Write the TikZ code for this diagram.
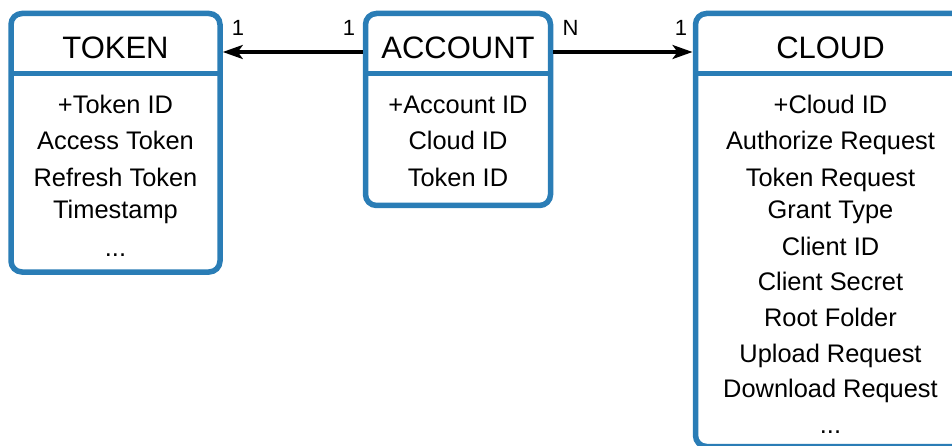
\documentclass[tikz,border=0pt]{standalone}
\usepackage{fontspec}
\setmainfont{Liberation Sans}
\usetikzlibrary{arrows.meta}
\definecolor{erblue}{RGB}{42,125,182}
\tikzset{
  entity/.style={draw=erblue, line width=5.5pt, rounded corners=11pt, fill=white},
  divider/.style={draw=erblue, line width=5pt},
  title/.style={anchor=base, inner sep=0pt, font=\fontsize{31}{31}\selectfont},
  field/.style={anchor=base, inner sep=0pt, font=\fontsize{25.4}{25.4}\selectfont},
  card/.style={anchor=base, inner sep=0pt, font=\fontsize{22}{22}\selectfont},
  rel/.style={line width=3.2pt, -{Stealth[length=20pt,width=14pt,inset=5pt]}}
}
\begin{document}
\begin{tikzpicture}[x=1pt,y=-1pt]
\useasboundingbox (0,0) rectangle (952,446);
\begin{scope}
\clip (0,0) rectangle (952,446);

% TOKEN entity
\draw[entity] (11,13.5) rectangle (220,272);
\draw[divider] (11,73.5) -- (220,73.5);
\coordinate (tokE) at (222.8,52);
\node[title] (tokT) at (115.5,58.3) {TOKEN};
\node[field] (tok1) at (115.5,113.3) {+Token ID};
\node[field] (tok2) at (115.5,150) {Access Token};
\node[field] (tok3) at (115.5,186.7) {Refresh Token};
\node[field] (tok4) at (115.5,219) {Timestamp};
\node[field] (tok5) at (115.5,256.7) {...};

% ACCOUNT entity
\draw[entity] (365.5,13.5) rectangle (550.5,205.5);
\draw[divider] (365.5,74) -- (550.5,74);
\coordinate (accW) at (363,52);
\coordinate (accE) at (553,52);
\node[title] (accT) at (458,58.3) {ACCOUNT};
\node[field] (acc1) at (458,113.3) {+Account ID};
\node[field] (acc2) at (458,150) {Cloud ID};
\node[field] (acc3) at (458,186.7) {Token ID};

% CLOUD entity (runs past the right and bottom edges)
\draw[entity] (695.5,13.5) rectangle (966,446.5);
\draw[divider] (695.5,74) -- (966,74);
\coordinate (clW) at (692.5,52);
\node[title] (clT) at (830.5,58.3) {CLOUD};
\node[field] (cl1) at (830.5,113.3) {+Cloud ID};
\node[field] (cl2) at (830.5,150) {Authorize Request};
\node[field] (cl3) at (830.5,186.7) {Token Request};
\node[field] (cl4) at (830.5,219) {Grant Type};
\node[field] (cl5) at (830.5,255) {Client ID};
\node[field] (cl6) at (830.5,290) {Client Secret};
\node[field] (cl7) at (830.5,326) {Root Folder};
\node[field] (cl8) at (830.5,362) {Upload Request};
\node[field] (cl9) at (830.5,397) {Download Request};
\node[field] (cl10) at (830.5,433) {...};
\end{scope}

% relationships
\draw[rel] (accW) -- (tokE);
\draw[rel] (accE) -- (clW);

% cardinalities
\node[card] (c1) at (238,36) {1};
\node[card] (c2) at (349,36) {1};
\node[card] (c3) at (570.5,36) {N};
\node[card] (c4) at (681,36) {1};
\end{tikzpicture}
\end{document}
